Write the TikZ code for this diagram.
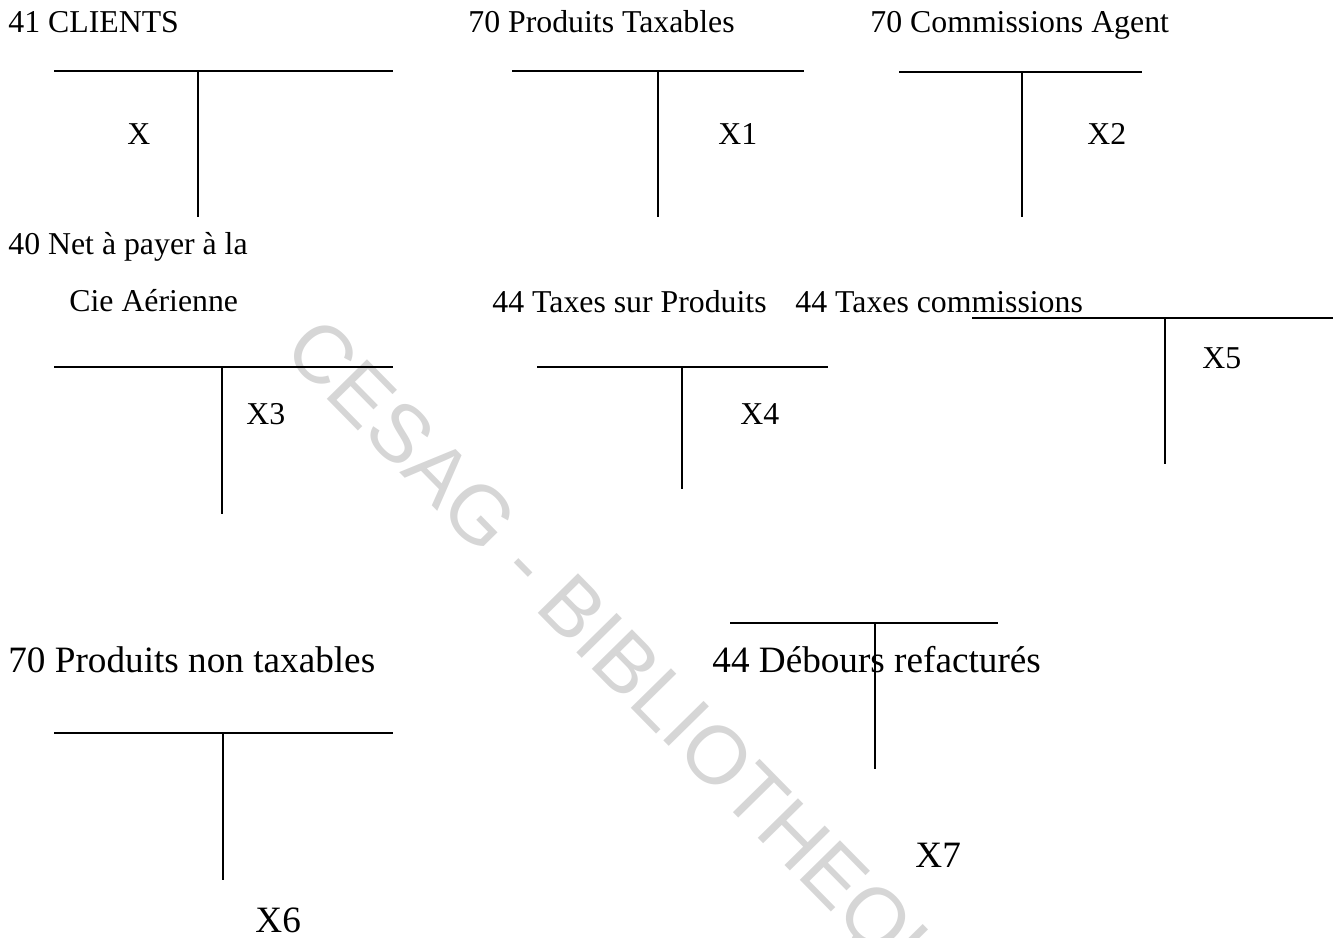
\documentclass[tikz,border=0pt]{standalone}
\usepackage{fontspec}
\setmainfont{Liberation Serif}
\newfontfamily\wmfont{Liberation Sans}
\definecolor{wmgray}{RGB}{214,214,214}
\begin{document}
\begin{tikzpicture}[x=0.5pt,y=-0.5pt,
  lbl/.style={anchor=base west,inner sep=0pt,font=\fontsize{15.9}{19}\selectfont},
  biglbl/.style={anchor=base west,inner sep=0pt,font=\fontsize{18.6}{22}\selectfont},
  rule/.style={line width=1pt},
  wm/.style={anchor=base west,inner sep=0pt,rotate=-45.5,text=wmgray,
    font=\wmfont\fontsize{41}{42}\selectfont}]
\useasboundingbox (0,0) rectangle (1341,938);

% library stamp across the page
\begin{scope}
  \clip (0,0) rectangle (1341,938);
  \node[wm] (stamp) at (281,352) {CESAG - BIBLIOTHEQUE};
\end{scope}

% T-accounts: top bar and centre stroke
\coordinate (a1) at (54,71);   \coordinate (b1) at (393,71);
\coordinate (c1) at (198,71);  \coordinate (d1) at (198,217);
\coordinate (a2) at (512,71);  \coordinate (b2) at (804,71);
\coordinate (c2) at (658,71);  \coordinate (d2) at (658,217);
\coordinate (a3) at (899,72);  \coordinate (b3) at (1142,72);
\coordinate (c3) at (1022,72); \coordinate (d3) at (1022,217);
\coordinate (a4) at (54,367);  \coordinate (b4) at (393,367);
\coordinate (c4) at (222,367); \coordinate (d4) at (222,514);
\coordinate (a5) at (537,367); \coordinate (b5) at (828,367);
\coordinate (c5) at (682,367); \coordinate (d5) at (682,489);
\coordinate (a6) at (972,318); \coordinate (b6) at (1333,318);
\coordinate (c6) at (1165,318);\coordinate (d6) at (1165,464);
\coordinate (a7) at (54,733);  \coordinate (b7) at (393,733);
\coordinate (c7) at (223,733); \coordinate (d7) at (223,880);
\coordinate (a8) at (730,623); \coordinate (b8) at (998,623);
\coordinate (c8) at (875,623); \coordinate (d8) at (875,769);

\foreach \i in {1,...,8}{
  \draw[rule] (a\i) -- (b\i);
  \draw[rule] (c\i) -- (d\i);
}

% account titles
\node[lbl] (t1) at (8,32)    {41 CLIENTS};
\node[lbl] (t2) at (468,32)  {70 Produits Taxables};
\node[lbl] (t3) at (870,32)  {70 Commissions Agent};
\node[lbl] (t4) at (8,254)   {40 Net à payer à la};
\node[lbl] (t4b) at (69,311) {Cie Aérienne};
\node[lbl] (t5) at (492,312) {44 Taxes sur Produits};
\node[lbl] (t6) at (795,312) {44 Taxes commissions};
\node[biglbl] (t7) at (8,672)   {70 Produits non taxables};
\node[biglbl] (t8) at (712,672) {44 Débours refacturés};

% amounts
\node[lbl] (x0) at (127,144)  {X};
\node[lbl] (x1) at (718,144)  {X1};
\node[lbl] (x2) at (1087,144) {X2};
\node[lbl] (x3) at (246,424)  {X3};
\node[lbl] (x4) at (740,424)  {X4};
\node[lbl] (x5) at (1202,368) {X5};
\node[biglbl] (x6) at (255,932) {X6};
\node[biglbl] (x7) at (915,867) {X7};
\end{tikzpicture}
\end{document}
